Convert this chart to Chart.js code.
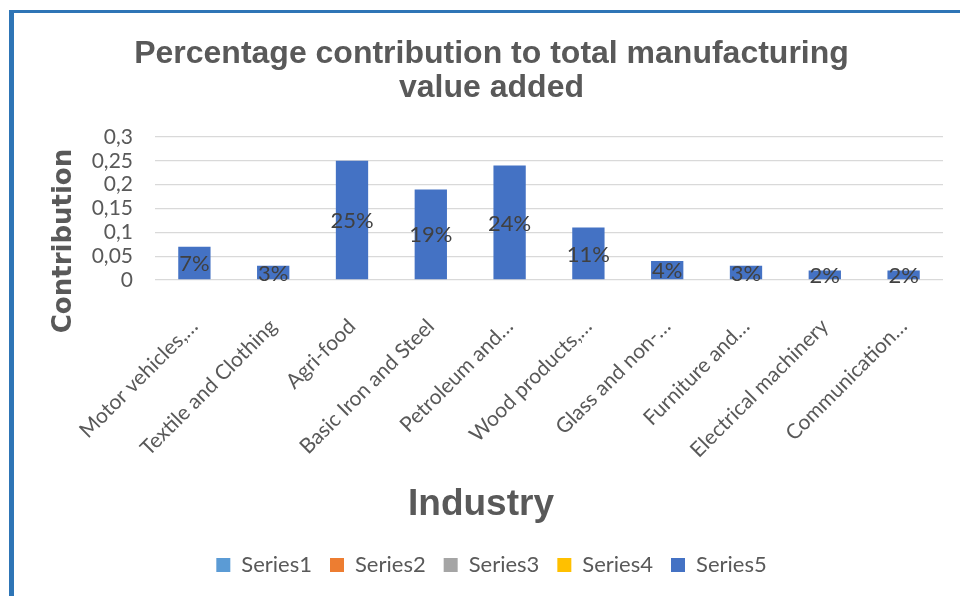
<!DOCTYPE html>
<html>
<head>
<meta charset="utf-8">
<title>Percentage contribution to total manufacturing value added</title>
<script src="https://cdn.jsdelivr.net/npm/chart.js@4.4.1/dist/chart.umd.min.js"></script>
<style>
  html, body { margin: 0; padding: 0; background: #fff; overflow: hidden; }
  #wrap { position: relative; width: 960px; height: 596px; overflow: hidden; }
  #frame {
    position: absolute; left: 9px; top: 10px; width: 1000px; height: 700px;
    border-left: 5px solid #2e75b6; border-top: 3px solid #2e75b6;
    pointer-events: none;
  }
  canvas { display: block; }
</style>
</head>
<body>
<div id="wrap">
  <canvas id="valueAddedChart" width="960" height="596"></canvas>
  <div id="frame"></div>
</div>
<script>
// industries on the x axis (labels cut short the way the sheet shows them)
const industries = [
  "Motor vehicles,\u2026",
  "Textile and Clothing",
  "Agri-food",
  "Basic Iron and Steel",
  "Petroleum and\u2026",
  "Wood products,\u2026",
  "Glass and non-\u2026",
  "Furniture and\u2026",
  "Electrical machinery",
  "Communication\u2026"
];

// share of total manufacturing value added
const contribution = [0.07, 0.03, 0.25, 0.19, 0.24, 0.11, 0.04, 0.03, 0.02, 0.02];

const seriesNames = ["Series1", "Series2", "Series3", "Series4", "Series5"];
const seriesColors = ["#5b9bd5", "#ed7d31", "#a5a5a5", "#ffc000", "#4472c4"];

const yMin = 0;
const yMax = 0.3;
const yStep = 0.05;

const textGrey = "#595959";

// only Series5 carries values, the other four are empty
const datasets = seriesNames.map((name, i) => ({
  label: name,
  data: i === seriesNames.length - 1 ? contribution : [],
  backgroundColor: seriesColors[i],
  borderWidth: 0
}));

// percent labels in the middle of each bar
const barLabels = {
  id: "barLabels",
  afterDatasetsDraw(chart) {
    const ctx = chart.ctx;
    const meta = chart.getDatasetMeta(seriesNames.length - 1);
    ctx.save();
    ctx.font = '22px "Lato"';
    ctx.fillStyle = "#404040";
    ctx.textAlign = "center";
    ctx.textBaseline = "middle";
    meta.data.forEach((bar, i) => {
      const v = contribution[i];
      ctx.fillText(Math.round(v * 100) + "%", bar.x, (bar.y + bar.base) / 2 + 1);
    });
    ctx.restore();
  }
};

// axis titles sit where the sheet puts them, not centred on the plot
const axisTitles = {
  id: "axisTitles",
  afterDraw(chart) {
    const ctx = chart.ctx;
    ctx.save();
    ctx.fillStyle = textGrey;
    ctx.textAlign = "center";
    ctx.textBaseline = "middle";

    ctx.font = 'bold 26px "DejaVu Sans"';
    ctx.translate(64, 241);
    ctx.rotate(-Math.PI / 2);
    ctx.fillText("Contribution", 0, 0);
    ctx.setTransform(1, 0, 0, 1, 0, 0);

    ctx.font = 'bold 37px "Liberation Sans"';
    ctx.fillText("Industry", 481, 505);
    ctx.restore();
  }
};

const chartCtx = document.getElementById("valueAddedChart");

new Chart(chartCtx, {
  type: "bar",
  data: { labels: industries, datasets: datasets },
  options: {
    responsive: false,
    animation: false,
    layout: { padding: { left: 40, right: 17, top: 0, bottom: 10 } },
    datasets: {
      bar: { grouped: false, barPercentage: 0.41, categoryPercentage: 1 }
    },
    plugins: {
      title: {
        display: true,
        text: ["Percentage contribution to total manufacturing", "value added"],
        color: textGrey,
        font: { family: "Liberation Sans", size: 32, weight: "bold", lineHeight: 1.0625 },
        padding: { top: 37, bottom: 32 }
      },
      legend: {
        position: "bottom",
        labels: {
          color: textGrey,
          font: { family: "Lato", size: 22 },
          boxWidth: 14,
          boxHeight: 14,
          padding: 18
        }
      },
      tooltip: { enabled: false }
    },
    scales: {
      x: {
        grid: { display: false },
        border: { display: false },
        ticks: {
          color: textGrey,
          font: { family: "Lato", size: 21 },
          autoSkip: false,
          maxRotation: 45,
          minRotation: 45,
          padding: 26
        },
        afterFit(scale) { scale.height = 256; }
      },
      y: {
        min: yMin,
        max: yMax,
        grid: { color: "#d9d9d9", lineWidth: 1.3, drawTicks: false },
        border: { display: false },
        ticks: {
          stepSize: yStep,
          autoSkip: false,
          color: textGrey,
          font: { family: "Lato", size: 21 },
          padding: 22,
          callback: (v) => String(Math.round(v * 100) / 100).replace(".", ",")
        },
        afterFit(scale) { scale.width = 115; }
      }
    }
  },
  plugins: [barLabels, axisTitles]
});
</script>
</body>
</html>
